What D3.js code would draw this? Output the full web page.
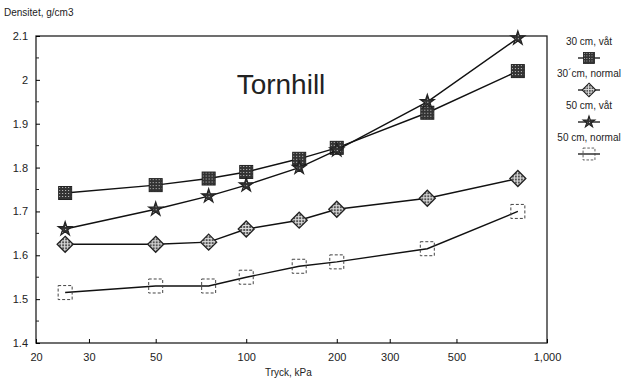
<!DOCTYPE html>
<html lang="en">
<head>
<meta charset="UTF-8">
<title>Tornhill</title>
<style>
  body { margin: 0; background: #fff; }
  text { font-family: "Liberation Sans", Arial, sans-serif; fill: #222; }
</style>
</head>
<body>
<svg></svg>
<script src="https://cdn.jsdelivr.net/npm/d3@7"></script>
<script>
var width = 632
var height = 381
var margin = {left: 36, right: 85, top: 36, bottom: 38}

// data
var pressure = [25, 50, 75, 100, 150, 200, 400, 800]
var wet30 = [1.742, 1.76, 1.775, 1.79, 1.82, 1.845, 1.925, 2.02]
var normal30 = [1.625, 1.625, 1.63, 1.66, 1.68, 1.705, 1.73, 1.775]
var wet50 = [1.66, 1.705, 1.735, 1.76, 1.80, 1.84, 1.95, 2.095]
var normal50 = [1.515, 1.53, 1.53, 1.55, 1.575, 1.585, 1.615, 1.70]
var seriesNames = ["30 cm, våt", "30´cm, normal", "50 cm, våt", "50 cm, normal"]
var xTicks = [20, 30, 50, 100, 200, 300, 500, 1000]
var yTicks = [1.4, 1.5, 1.6, 1.7, 1.8, 1.9, 2, 2.1]

var series = [
  {name: seriesNames[0], values: wet30, shape: "square"},
  {name: seriesNames[1], values: normal30, shape: "diamond"},
  {name: seriesNames[2], values: wet50, shape: "star"},
  {name: seriesNames[3], values: normal50, shape: "open"}
]

var x = d3.scaleLog().domain([20, 1000]).range([margin.left, width - margin.right])
var y = d3.scaleLinear().domain([1.4, 2.1]).range([height - margin.bottom, margin.top])

var svg = d3.select("svg").attr("width", width).attr("height", height)

// hatched fill like the scanned markers
var defs = svg.append("defs")
var pat = defs.append("pattern").attr("id", "hatch")
  .attr("width", 3).attr("height", 3).attr("patternUnits", "userSpaceOnUse")
pat.append("rect").attr("width", 3).attr("height", 3).attr("fill", "#333")
pat.append("rect").attr("width", 1).attr("height", 1).attr("fill", "#ccc")
var pat2 = defs.append("pattern").attr("id", "hatch2")
  .attr("width", 3).attr("height", 3).attr("patternUnits", "userSpaceOnUse")
pat2.append("rect").attr("width", 3).attr("height", 3).attr("fill", "#ddd")
pat2.append("rect").attr("width", 2).attr("height", 2).attr("fill", "#555")

// frame
svg.append("rect")
  .attr("x", margin.left).attr("y", margin.top)
  .attr("width", x(1000) - x(20)).attr("height", y(1.4) - y(2.1))
  .attr("fill", "none").attr("stroke", "#222").attr("stroke-width", 1.3)

// axes
var xAxis = svg.append("g")
  .attr("transform", `translate(0, ${height - margin.bottom})`)
  .call(d3.axisBottom(x).tickValues(xTicks).tickSize(-4).tickPadding(10)
    .tickFormat(d3.format(",")))
xAxis.select(".domain").remove()
xAxis.selectAll("text").attr("font-size", 11)

var yAxis = svg.append("g")
  .attr("transform", `translate(${margin.left}, 0)`)
  .call(d3.axisLeft(y).tickValues(yTicks).tickSize(-4).tickPadding(8)
    .tickFormat(d => d3.format("")(d)))
yAxis.select(".domain").remove()
yAxis.selectAll("text").attr("font-size", 11)

// minor y ticks
svg.append("g").selectAll("line")
  .data(d3.range(1.45, 2.1, 0.1))
  .join("line")
  .attr("x1", margin.left).attr("x2", margin.left + 3)
  .attr("y1", d => y(d)).attr("y2", d => y(d))
  .attr("stroke", "#222")

// labels
svg.append("text").attr("x", 4).attr("y", 16).attr("font-size", 10).text("Densitet, g/cm3")
svg.append("text").attr("x", 265).attr("y", 376).attr("font-size", 10).text("Tryck, kPa")
svg.append("text").attr("x", 281).attr("y", 94).attr("font-size", 28)
  .attr("text-anchor", "middle").attr("font-weight", 300).text("Tornhill")

function drawMarker(g, shape) {
  if (shape === "square") {
    g.append("rect").attr("x", -6.5).attr("y", -6.5).attr("width", 13).attr("height", 13)
      .attr("fill", "url(#hatch)").attr("stroke", "#222")
  } else if (shape === "diamond") {
    g.append("path").attr("d", "M0,-8L8,0L0,8L-8,0Z")
      .attr("fill", "url(#hatch2)").attr("stroke", "#222").attr("stroke-width", 1.3)
  } else if (shape === "star") {
    g.append("path").attr("d", d3.symbol(d3.symbolStar, 60)())
      .attr("fill", "url(#hatch)").attr("stroke", "#222").attr("stroke-width", 1.2)
  } else {
    g.append("rect").attr("x", -7).attr("y", -7).attr("width", 14).attr("height", 14)
      .attr("fill", "none").attr("stroke", "#444").attr("stroke-dasharray", "3,2")
  }
}

var line = d3.line().x((d, i) => x(pressure[i])).y(d => y(d))

series.forEach(s => {
  svg.append("path").datum(s.values)
    .attr("d", line).attr("fill", "none")
    .attr("stroke", "#111").attr("stroke-width", 1.4)
  svg.append("g").selectAll("g")
    .data(s.values)
    .join("g")
    .attr("transform", (d, i) => `translate(${x(pressure[i])},${y(d)})`)
    .each(function() { drawMarker(d3.select(this), s.shape) })
})

// legend
var legend = svg.append("g").attr("transform", "translate(589, 0)")
series.forEach((s, i) => {
  var ty = 45 + i * 32
  legend.append("text").attr("x", 0).attr("y", ty).attr("font-size", 10)
    .attr("text-anchor", "middle").text(s.name)
  var sy = ty + 13
  legend.append("line").attr("x1", -11).attr("x2", 11).attr("y1", sy).attr("y2", sy)
    .attr("stroke", "#111").attr("stroke-width", 1.3)
  drawMarker(legend.append("g").attr("transform", `translate(0,${sy}) scale(0.85)`), s.shape)
})
</script>
</body>
</html>
